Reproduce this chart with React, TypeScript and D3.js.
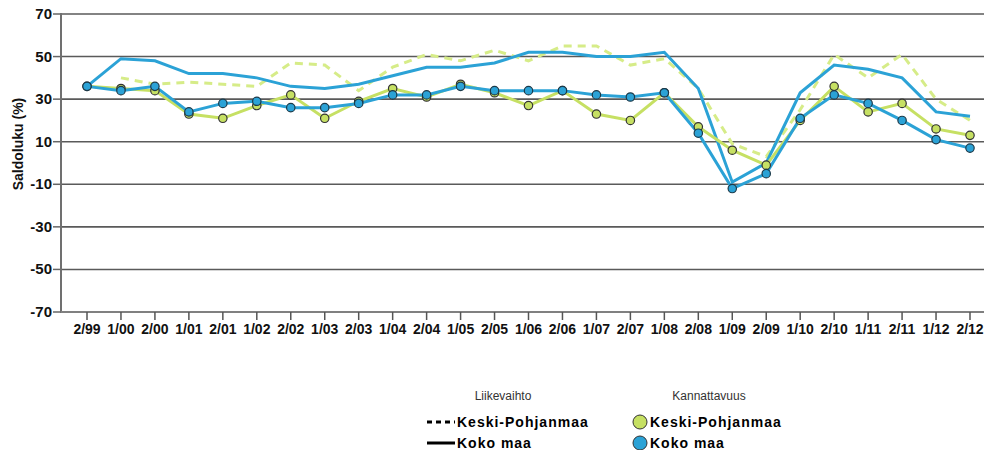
import React from 'react'
import * as d3 from 'd3'

const periods = [
  '2/99', '1/00', '2/00', '1/01', '2/01', '1/02', '2/02', '1/03', '2/03', '1/04', '2/04', '1/05', '2/05', '1/06',
  '2/06', '1/07', '2/07', '1/08', '2/08', '1/09', '2/09', '1/10', '2/10', '1/11', '2/11', '1/12', '2/12',
]
// Liikevaihto (turnover)
const salesKP: (number | null)[] = [
  null, 40, 37, 38, 37, 36, 47, 46, 34, 45, 51, 48, 53, 48, 55, 55, 46, 49, 35, 9, 3, 25, 51, 40, 51, 30, 20,
]
const salesKoko = [36, 49, 48, 42, 42, 40, 36, 35, 37, 41, 45, 45, 47, 52, 52, 50, 50, 52, 35, -9, 0, 33, 46, 44, 40, 24, 22]
// Kannattavuus (profitability)
const profitKP = [36, 35, 34, 23, 21, 27, 32, 21, 29, 35, 31, 37, 33, 27, 34, 23, 20, 33, 17, 6, -1, 20, 36, 24, 28, 16, 13]
const profitKoko = [36, 34, 36, 24, 28, 29, 26, 26, 28, 32, 32, 36, 34, 34, 34, 32, 31, 33, 14, -12, -5, 21, 32, 28, 20, 11, 7]
const yTicks = [70, 50, 30, 10, -10, -30, -50, -70]

const BLUE = '#2ba2d6'
const GREEN = '#c6e063'
const GREEN_DASH = '#d6ec88'
const FONT = "Arial, 'Liberation Sans', sans-serif"

const App = () => {
  const width = 984
  const height = 450
  const left = 61
  const top = 14
  const bottom = 312

  const x = d3.scalePoint<string>().domain(periods).range([87, 970])
  const y = d3.scaleLinear().domain([-70, 70]).range([bottom, top])

  const line = d3
    .line<number | null>()
    .defined((d) => d != null)
    .x((_, i) => x(periods[i]) as number)
    .y((d) => y(d as number))

  return (
    <svg width={width} height={height} style={{ position: 'absolute', left: 0, top: 0 }} fontFamily={FONT}>
      <rect width={width} height={height} fill='#fff' />
      {/* grid */}
      {yTicks.map((t) => (
        <g key={t}>
          {t !== -70 && <line x1={left} x2={width} y1={y(t)} y2={y(t)} stroke='#5a5a5a' strokeWidth={1.6} />}
          <line x1={left - 8} x2={left} y1={y(t)} y2={y(t)} stroke='#666' strokeWidth={1.5} />
          <text x={left - 9} y={y(t) + 5} textAnchor='end' fontSize={15} fontWeight='bold' fill='#111'>
            {t}
          </text>
        </g>
      ))}
      <line x1={left} x2={left} y1={top - 1} y2={bottom + 1} stroke='#707070' strokeWidth={2} />
      <line x1={left} x2={width} y1={bottom} y2={bottom} stroke='#808080' strokeWidth={2} />
      {periods.map((p) => (
        <g key={p}>
          <line x1={x(p)} x2={x(p)} y1={bottom} y2={bottom + 8} stroke='#555' strokeWidth={1.5} />
          <text x={x(p)} y={334} textAnchor='middle' fontSize={14} fontWeight='bold' fill='#111'>
            {p}
          </text>
        </g>
      ))}
      <text
        transform={`translate(23, 144) rotate(-90)`}
        textAnchor='middle'
        fontSize={14}
        fontWeight='bold'
        fill='#111'
      >
        Saldoluku (%)
      </text>

      {/* series */}
      <path d={line(salesKP) || ''} fill='none' stroke={GREEN_DASH} strokeWidth={3} strokeDasharray='8 6' />
      <path d={line(salesKoko) || ''} fill='none' stroke={BLUE} strokeWidth={3} />
      <path d={line(profitKP) || ''} fill='none' stroke={GREEN} strokeWidth={3} />
      <path d={line(profitKoko) || ''} fill='none' stroke={BLUE} strokeWidth={3} />
      {profitKP.map((v, i) => (
        <circle key={`g${i}`} cx={x(periods[i])} cy={y(v)} r={4.2} fill={GREEN} stroke='#333' strokeWidth={1.2} />
      ))}
      {profitKoko.map((v, i) => (
        <circle key={`b${i}`} cx={x(periods[i])} cy={y(v)} r={4.2} fill={BLUE} stroke='#1b3a4a' strokeWidth={1.2} />
      ))}

      {/* legend */}
      <text x={503} y={400} textAnchor='middle' fontSize={12} fill='#333'>
        Liikevaihto
      </text>
      <text x={709} y={400} textAnchor='middle' fontSize={12} fill='#333'>
        Kannattavuus
      </text>
      <line x1={427} x2={455} y1={422} y2={422} stroke='#000' strokeWidth={3} strokeDasharray='5 4' />
      <text x={457} y={427} fontSize={14} fontWeight='bold' letterSpacing={1} fill='#000'>
        Keski-Pohjanmaa
      </text>
      <line x1={427} x2={455} y1={443} y2={443} stroke='#000' strokeWidth={3} />
      <text x={457} y={448} fontSize={14} fontWeight='bold' letterSpacing={1} fill='#000'>
        Koko maa
      </text>
      <circle cx={640} cy={422} r={7} fill={GREEN} stroke='#333' strokeWidth={1} />
      <text x={650} y={427} fontSize={14} fontWeight='bold' letterSpacing={1} fill='#000'>
        Keski-Pohjanmaa
      </text>
      <circle cx={640} cy={443} r={7} fill={BLUE} stroke='#333' strokeWidth={1} />
      <text x={650} y={448} fontSize={14} fontWeight='bold' letterSpacing={1} fill='#000'>
        Koko maa
      </text>
    </svg>
  )
}

export default App
